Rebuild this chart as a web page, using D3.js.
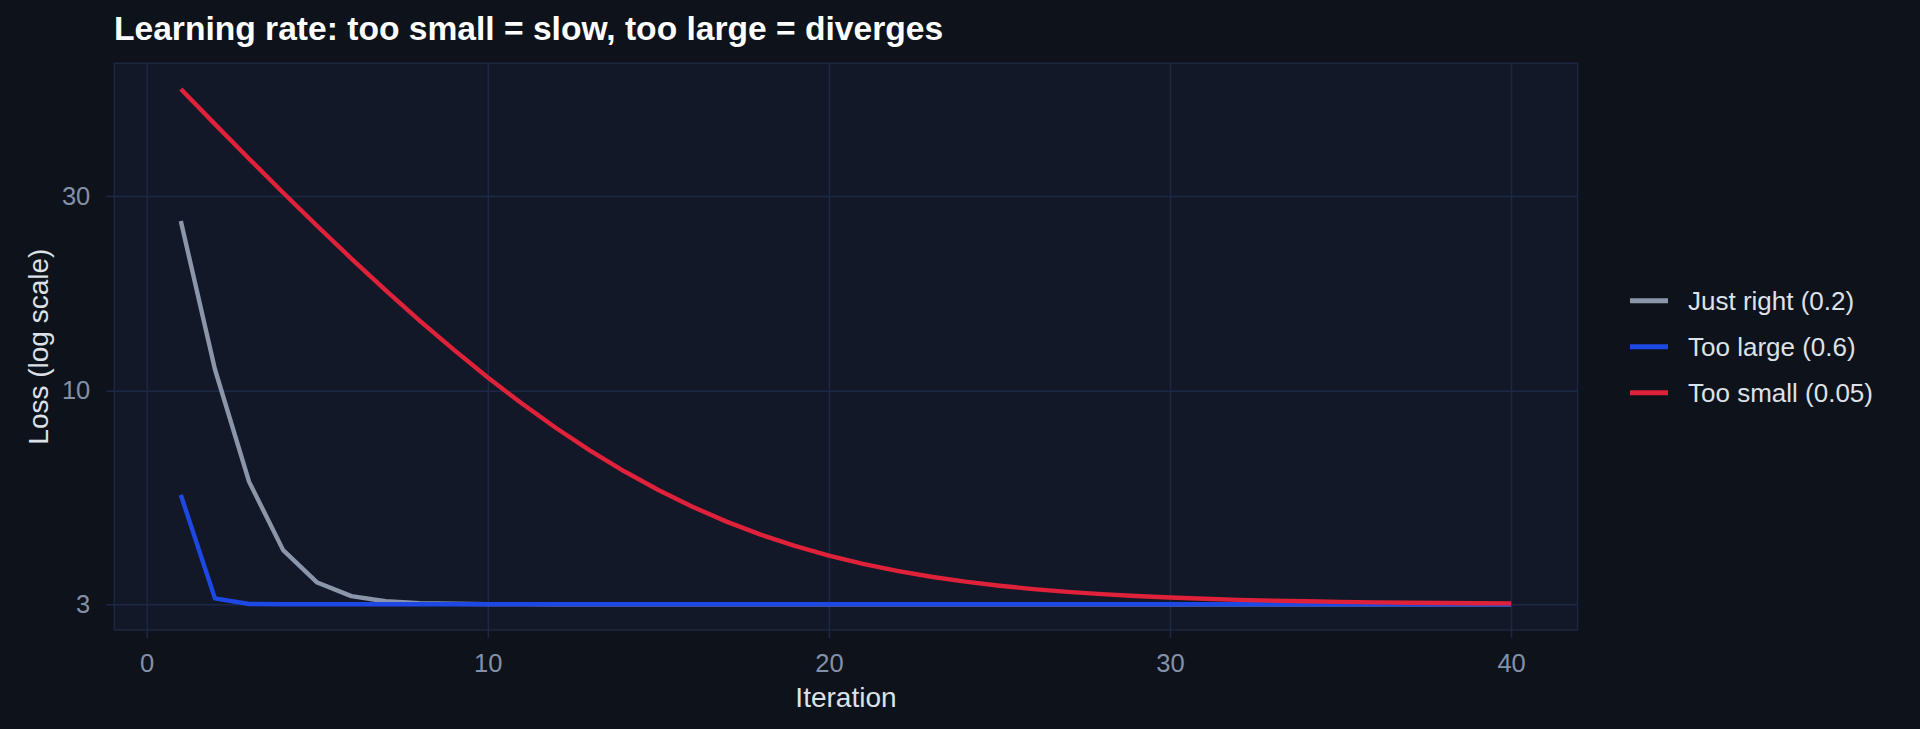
<!DOCTYPE html>
<html>
<head>
<meta charset="utf-8">
<script src="https://cdn.jsdelivr.net/npm/d3@7"></script>
<style>
  html, body { margin: 0; padding: 0; background: #0e121b; }
  svg { display: block; }
  text { font-family: "Liberation Sans", Arial, Helvetica, sans-serif; }
</style>
</head>
<body>
<svg id="chart" width="1920" height="729"></svg>
<script>
// iterations 1..40
var iterations = d3.range(1, 41);

// loss, one value per iteration
var justRight = [26.04, 11.29, 5.99, 4.07, 3.39, 3.14, 3.05, 3.018, 3.007, 3.002,
                 3.001, 3.00, 3.00, 3.00, 3.00, 3.00, 3.00, 3.00, 3.00, 3.00,
                 3.00, 3.00, 3.00, 3.00, 3.00, 3.00, 3.00, 3.00, 3.00, 3.00,
                 3.00, 3.00, 3.00, 3.00, 3.00, 3.00, 3.00, 3.00, 3.00, 3.00];
var tooLarge = [5.56, 3.10, 3.004, 3.00, 3.00, 3.00, 3.00, 3.00, 3.00, 3.00,
                3.00, 3.00, 3.00, 3.00, 3.00, 3.00, 3.00, 3.00, 3.00, 3.00,
                3.00, 3.00, 3.00, 3.00, 3.00, 3.00, 3.00, 3.00, 3.00, 3.00,
                3.00, 3.00, 3.00, 3.00, 3.00, 3.00, 3.00, 3.00, 3.00, 3.00];
var tooSmall = [54.84, 44.99, 37.01, 30.55, 25.32, 21.08, 17.64, 14.86, 12.61, 10.78,
                9.303, 8.105, 7.135, 6.349, 5.713, 5.198, 4.780, 4.442, 4.168, 3.946,
                3.766, 3.621, 3.503, 3.407, 3.330, 3.267, 3.216, 3.175, 3.142, 3.115,
                3.093, 3.075, 3.061, 3.050, 3.040, 3.032, 3.026, 3.021, 3.017, 3.014];

var seriesNames = ["Just right (0.2)", "Too large (0.6)", "Too small (0.05)"];
var seriesColors = ["#8b96ab", "#1e48e4", "#e0213a"];
var xTicks = [0, 10, 20, 30, 40];
var yTicks = [3, 10, 30];

var svg = d3.select("#chart");

// panel edges (px)
var pLeft = 114.3, pRight = 1577.6, pTop = 63.3, pBottom = 630;

var x = d3.scaleLinear().domain([-0.95, 41.95]).range([pLeft, pRight]);
var y = d3.scaleLog().domain([2.594, 63.4]).range([pBottom, pTop]);

svg.append("rect")
    .attr("width", 1920).attr("height", 729)
    .attr("fill", "#0e121b");

// panel
svg.append("rect")
    .attr("x", pLeft).attr("y", pTop)
    .attr("width", pRight - pLeft).attr("height", pBottom - pTop)
    .attr("fill", "#121828")
    .attr("stroke", "#1c2740")
    .attr("stroke-width", 1.5);

// grid lines
svg.append("g")
    .attr("transform", "translate(0," + pBottom + ")")
    .call(d3.axisBottom(x).tickValues(xTicks).tickSize(-(pBottom - pTop)).tickFormat(""))
    .call(function (g) { g.select(".domain").remove(); })
    .selectAll("line")
    .attr("stroke", "#1c2845")
    .attr("stroke-width", 1.5);

svg.append("g")
    .attr("transform", "translate(" + pLeft + ",0)")
    .call(d3.axisLeft(y).tickValues(yTicks).tickSize(-(pRight - pLeft)).tickFormat(""))
    .call(function (g) { g.select(".domain").remove(); })
    .selectAll("line")
    .attr("stroke", "#1c2845")
    .attr("stroke-width", 1.5);

// axes
var xAxis = svg.append("g")
    .attr("transform", "translate(0," + pBottom + ")")
    .call(d3.axisBottom(x).tickValues(xTicks).tickSize(8).tickPadding(16).tickFormat(d3.format("d")));
var yAxis = svg.append("g")
    .attr("transform", "translate(" + pLeft + ",0)")
    .call(d3.axisLeft(y).tickValues(yTicks).tickSize(8).tickPadding(16).tickFormat(d3.format("d")));

[xAxis, yAxis].forEach(function (ax) {
    ax.select(".domain").remove();
    ax.selectAll(".tick line").attr("stroke", "#1c2845").attr("stroke-width", 1.5);
    ax.selectAll(".tick text")
        .attr("fill", "#8391a8")
        .style("font-size", "25.5px")
        .style("font-family", "'Liberation Sans', Arial, Helvetica, sans-serif");
});

// lines
var line = d3.line()
    .x(function (d, i) { return x(iterations[i]); })
    .y(function (d) { return y(d); });

var allSeries = [justRight, tooLarge, tooSmall];
allSeries.forEach(function (s, i) {
    svg.append("path")
        .datum(s)
        .attr("d", line)
        .attr("fill", "none")
        .attr("stroke", seriesColors[i])
        .attr("stroke-width", 4.4)
        .attr("stroke-linejoin", "round")
        .attr("stroke-linecap", "butt");
});

// title
svg.append("text")
    .attr("x", 114).attr("y", 40)
    .attr("fill", "#ffffff")
    .style("font-size", "33.6px")
    .style("font-weight", "bold")
    .text("Learning rate: too small = slow, too large = diverges");

// axis titles
svg.append("text")
    .attr("x", (pLeft + pRight) / 2).attr("y", 707)
    .attr("text-anchor", "middle")
    .attr("fill", "#dde1e8")
    .style("font-size", "28px")
    .text("Iteration");

svg.append("text")
    .attr("transform", "translate(48," + (pTop + pBottom) / 2 + ") rotate(-90)")
    .attr("text-anchor", "middle")
    .attr("fill", "#dde1e8")
    .style("font-size", "28px")
    .text("Loss (log scale)");

// legend
var legend = svg.append("g");
seriesNames.forEach(function (name, i) {
    var ly = 300.7 + i * 46;
    legend.append("line")
        .attr("x1", 1630).attr("x2", 1668)
        .attr("y1", ly).attr("y2", ly)
        .attr("stroke", seriesColors[i])
        .attr("stroke-width", 5);
    legend.append("text")
        .attr("x", 1688).attr("y", ly)
        .attr("dy", "0.35em")
        .attr("fill", "#dde1e8")
        .style("font-size", "26px")
        .text(name);
});
</script>
</body>
</html>
